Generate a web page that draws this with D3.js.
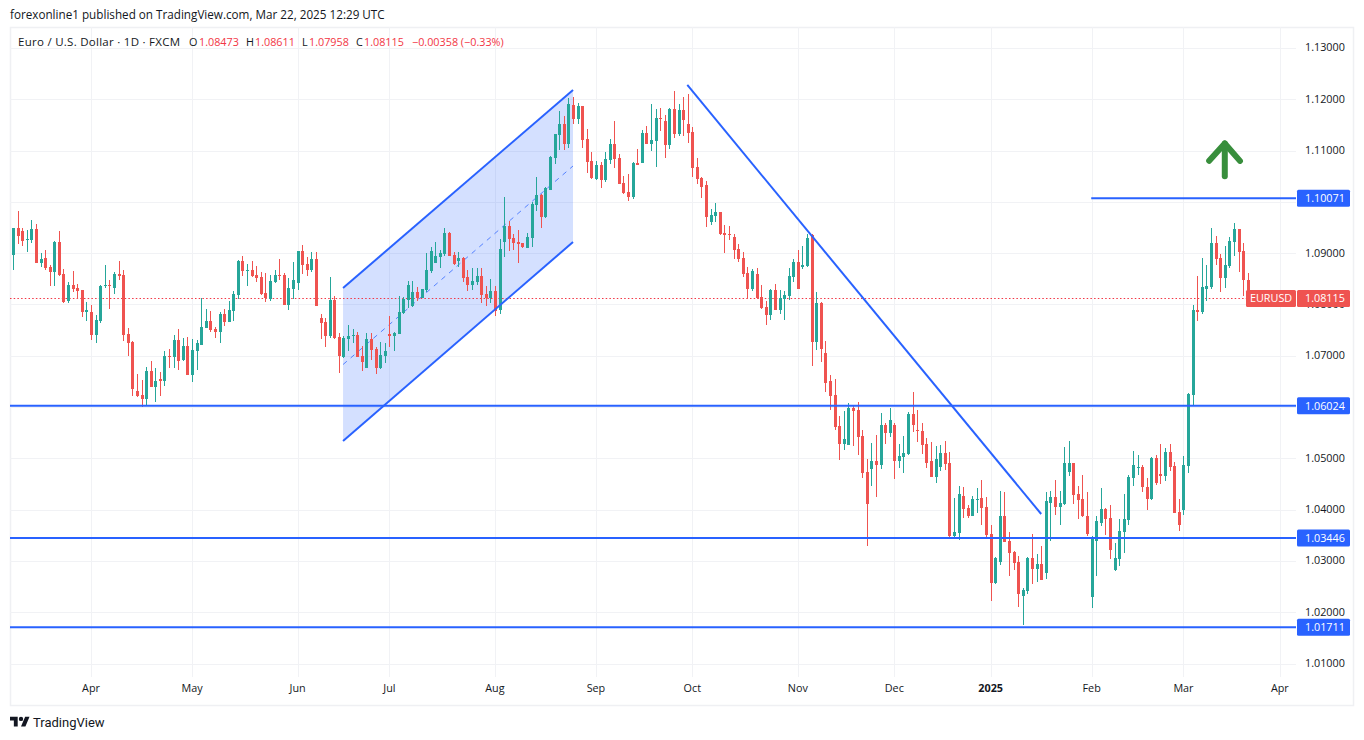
<!DOCTYPE html>
<meta charset="utf-8">
<style>

body {
  margin: 0;
  padding: 0;
  background: #fff;
}

text {
  font-family: "Open Sans", sans-serif;
  font-size: 10.8px;
  fill: #131722;
}

.axis .domain {
  display: none;
}

.axis text {
  font-family: "Open Sans", sans-serif;
  font-size: 10.8px;
  fill: #131722;
}

</style>
<svg width="1364" height="740"></svg>
<script src="https://d3js.org/d3.v7.min.js"></script>
<script>

// daily EURUSD candles
var opens = [1.0897,1.0950,1.0944,1.0927,1.0926,1.0948,1.0881,1.0891,1.0873,1.0863,1.0922,1.0859,1.0806,1.0838,1.0832,1.0828,1.0785,1.0785,1.0740,1.0767,1.0836,1.0838,1.0832,1.0859,1.0857,1.0742,1.0726,1.0632,1.0624,1.0616,1.0671,1.0640,1.0655,1.0651,1.0700,1.0697,1.0730,1.0691,1.0720,1.0663,1.0710,1.0722,1.0755,1.0767,1.0753,1.0746,1.0781,1.0765,1.0787,1.0818,1.0885,1.0865,1.0867,1.0857,1.0853,1.0822,1.0810,1.0844,1.0857,1.0857,1.0799,1.0830,1.0842,1.0905,1.0879,1.0867,1.0889,1.0773,1.0765,1.0738,1.0808,1.0736,
  1.0698,1.0732,1.0739,1.0741,1.0700,1.0677,1.0732,1.0714,1.0677,1.0700,1.0743,1.0738,1.0743,1.0783,1.0808,1.0798,1.0824,1.0812,1.0828,1.0865,1.0881,1.0893,1.0898,1.0940,1.0896,1.0885,1.0891,1.0853,1.0838,1.0843,1.0855,1.0820,1.0812,1.0826,1.0789,1.0922,1.0953,1.0930,1.0922,1.0920,1.0910,1.0930,1.0993,1.1014,1.0971,1.1024,1.1085,1.1130,1.1152,1.1112,1.1189,1.1161,1.1187,1.1122,1.1079,1.1044,1.1071,1.1042,1.1081,1.1112,1.1085,1.1036,1.1020,1.1010,1.1075,1.1075,1.1134,1.1112,1.1118,1.1163,1.1157,1.1110,1.1181,
  1.1132,1.1179,1.1152,1.1136,1.1069,1.1046,1.1032,1.0961,1.0973,1.0981,1.0940,1.0938,1.0932,1.0908,1.0891,1.0861,1.0830,1.0859,1.0814,1.0796,1.0779,1.0828,1.0789,1.0810,1.0816,1.0853,1.0883,1.0873,1.0875,1.0936,1.0726,1.0802,1.0705,
  1.0650,1.0624,1.0563,1.0528,1.0526,1.0598,1.0595,1.0543,1.0473,1.0479,1.0494,1.0487,1.0565,1.0549,1.0565,1.0494,1.0502,1.0508,1.0587,1.0555,1.0553,1.0528,1.0494,1.0463,1.0483,1.0510,1.0491,1.0349,1.0355,1.0426,1.0404,1.0388,1.0418,1.0422,1.0406,1.0353,1.0257,1.0298,1.0388,1.0339,1.0318,1.0298,1.0231,1.0241,1.0306,1.0285,1.0294,1.0277,1.0414,1.0424,1.0406,1.0412,1.0473,1.0491,1.0430,1.0420,1.0388,1.0230,1.0339,
  1.0375,1.0402,1.0383,1.0283,1.0304,1.0357,1.0379,1.0461,1.0481,1.0483,1.0445,1.0420,1.0500,1.0469,1.0465,1.0512,1.0485,1.0396,1.0400,1.0485,1.0624,1.0789,1.0785,1.0830,1.0834,1.0920,1.0891,1.0852,1.0875,1.0922,1.0948,1.0905,1.08473];

var highs = [1.0950,1.0983,1.0950,1.0946,1.0965,1.0956,1.0901,1.0906,1.0877,1.0924,1.0944,1.0869,1.0844,1.0865,1.0840,1.0828,1.0804,1.0799,1.0779,1.0838,1.0877,1.0848,1.0863,1.0885,1.0867,1.0755,1.0728,1.0665,1.0653,1.0679,1.0689,1.0677,1.0669,1.0710,1.0714,1.0740,1.0753,1.0734,1.0736,1.0732,1.0730,1.0812,1.0791,1.0787,1.0757,1.0785,1.0791,1.0806,1.0826,1.0887,1.0895,1.0879,1.0885,1.0875,1.0863,1.0861,1.0857,1.0867,1.0889,1.0861,1.0851,1.0883,1.0905,1.0916,1.0893,1.0903,1.0903,1.0781,1.0773,1.0853,1.0816,1.0744,
  1.0739,1.0761,1.0753,1.0747,1.0720,1.0745,1.0745,1.0718,1.0726,1.0724,1.0777,1.0747,1.0816,1.0814,1.0845,1.0845,1.0834,1.0830,1.0900,1.0912,1.0922,1.0906,1.0949,1.0942,1.0902,1.0902,1.0893,1.0867,1.0871,1.0871,1.0871,1.0836,1.0849,1.0836,1.0928,1.1010,1.0963,1.0938,1.0946,1.0920,1.0940,1.1000,1.1049,1.1016,1.1030,1.1089,1.1132,1.1177,1.1167,1.1203,1.1204,1.1193,1.1187,1.1142,1.1097,1.1079,1.1077,1.1097,1.1122,1.1157,1.1093,1.1051,1.1055,1.1077,1.1104,1.1140,1.1148,1.1191,1.1181,1.1183,1.1169,1.1183,1.1216,
  1.1191,1.1204,1.1210,1.1146,1.1085,1.1048,1.1040,1.0987,1.0998,1.0981,1.0955,1.0953,1.0938,1.0918,1.0902,1.0873,1.0869,1.0871,1.0838,1.0806,1.0830,1.0840,1.0828,1.0826,1.0871,1.0889,1.0906,1.0914,1.0938,1.0938,1.0824,1.0804,1.0729,
  1.0663,1.0655,1.0583,1.0593,1.0608,1.0602,1.0610,1.0555,1.0498,1.0530,1.0545,1.0589,1.0569,1.0598,1.0569,1.0528,1.0543,1.0591,1.0630,1.0595,1.0569,1.0540,1.0532,1.0524,1.0526,1.0534,1.0512,1.0422,1.0447,1.0445,1.0410,1.0426,1.0443,1.0457,1.0424,1.0371,1.0308,1.0436,1.0434,1.0357,1.0320,1.0310,1.0247,1.0308,1.0353,1.0314,1.0330,1.0434,1.0436,1.0457,1.0436,1.0522,1.0534,1.0492,1.0447,1.0467,1.0434,1.0349,1.0387,
  1.0442,1.0404,1.0410,1.0336,1.0381,1.0430,1.0467,1.0514,1.0506,1.0487,1.0461,1.0502,1.0506,1.0528,1.0520,1.0528,1.0493,1.0420,1.0504,1.0628,1.0799,1.0856,1.0891,1.0877,1.0950,1.0934,1.0899,1.0914,1.0932,1.0958,1.0948,1.0920,1.08611];

var lows = [1.0867,1.0918,1.0914,1.0903,1.0920,1.0881,1.0873,1.0867,1.0836,1.0836,1.0855,1.0802,1.0802,1.0824,1.0810,1.0775,1.0767,1.0730,1.0724,1.0763,1.0832,1.0791,1.0820,1.0848,1.0728,1.0699,1.0622,1.0620,1.0600,1.0604,1.0640,1.0610,1.0622,1.0642,1.0677,1.0677,1.0673,1.0689,1.0663,1.0649,1.0673,1.0722,1.0755,1.0747,1.0734,1.0724,1.0759,1.0765,1.0767,1.0810,1.0855,1.0836,1.0853,1.0844,1.0818,1.0804,1.0806,1.0842,1.0848,1.0799,1.0789,1.0810,1.0828,1.0859,1.0855,1.0863,1.0797,1.0732,1.0718,1.0734,1.0732,1.0667,
  1.0696,1.0710,1.0724,1.0698,1.0671,1.0677,1.0692,1.0665,1.0675,1.0685,1.0718,1.0710,1.0743,1.0781,1.0794,1.0796,1.0806,1.0812,1.0824,1.0861,1.0881,1.0871,1.0894,1.0894,1.0877,1.0873,1.0843,1.0826,1.0828,1.0838,1.0802,1.0798,1.0802,1.0777,1.0781,1.0893,1.0904,1.0906,1.0881,1.0910,1.0910,1.0912,1.0983,1.0949,1.0969,1.1024,1.1073,1.1101,1.1101,1.1106,1.1152,1.1152,1.1106,1.1057,1.1044,1.1042,1.1028,1.1038,1.1073,1.1067,1.1034,1.1016,1.1002,1.1006,1.1071,1.1075,1.1112,1.1099,1.1069,1.1138,1.1085,1.1104,1.1124,
  1.1128,1.1128,1.1114,1.1048,1.1034,1.1008,1.0951,1.0955,1.0961,1.0936,1.0900,1.0926,1.0889,1.0883,1.0853,1.0810,1.0826,1.0810,1.0792,1.0761,1.0769,1.0790,1.0781,1.0769,1.0808,1.0843,1.0830,1.0869,1.0873,1.0681,1.0712,1.0687,1.0629,
  1.0595,1.0555,1.0496,1.0516,1.0526,1.0524,1.0506,1.0461,1.0330,1.0447,1.0424,1.0479,1.0528,1.0542,1.0459,1.0481,1.0471,1.0506,1.0551,1.0532,1.0508,1.0481,1.0463,1.0453,1.0475,1.0477,1.0345,1.0345,1.0341,1.0383,1.0383,1.0388,1.0394,1.0371,1.0343,1.0222,1.0255,1.0292,1.0338,1.0271,1.0283,1.0210,1.0175,1.0235,1.0255,1.0259,1.0263,1.0265,1.0339,1.0390,1.0371,1.0410,1.0465,1.0412,1.0381,1.0385,1.0349,1.0208,1.0271,
  1.0369,1.0351,1.0304,1.0281,1.0290,1.0316,1.0371,1.0447,1.0467,1.0434,1.0400,1.0418,1.0449,1.0451,1.0455,1.0475,1.0394,1.0359,1.0389,1.0471,1.0602,1.0767,1.0781,1.0806,1.0830,1.0877,1.0824,1.0832,1.0871,1.0895,1.0863,1.0816,1.07958];

var closes = [1.0950,1.0934,1.0924,1.0928,1.0948,1.0881,1.0889,1.0871,1.0863,1.0922,1.0857,1.0804,1.0838,1.0830,1.0826,1.0785,1.0789,1.0740,1.0769,1.0836,1.0838,1.0836,1.0859,1.0855,1.0740,1.0724,1.0636,1.0622,1.0616,1.0671,1.0640,1.0651,1.0651,1.0700,1.0697,1.0730,1.0689,1.0720,1.0663,1.0712,1.0724,1.0757,1.0767,1.0751,1.0746,1.0781,1.0765,1.0789,1.0820,1.0885,1.0865,1.0867,1.0855,1.0851,1.0820,1.0812,1.0846,1.0857,1.0855,1.0799,1.0832,1.0848,1.0905,1.0877,1.0867,1.0889,1.0797,1.0763,1.0738,1.0808,1.0734,1.0700,
  1.0734,1.0739,1.0741,1.0698,1.0688,1.0732,1.0712,1.0677,1.0702,1.0710,1.0738,1.0745,1.0785,1.0810,1.0838,1.0824,1.0812,1.0830,1.0867,1.0904,1.0894,1.0900,1.0940,1.0894,1.0879,1.0891,1.0851,1.0838,1.0845,1.0855,1.0818,1.0812,1.0826,1.0787,1.0908,1.0953,1.0928,1.0920,1.0918,1.0912,1.0932,1.0995,1.1014,1.0971,1.1028,1.1087,1.1132,1.1152,1.1112,1.1191,1.1161,1.1187,1.1120,1.1077,1.1046,1.1071,1.1042,1.1083,1.1112,1.1083,1.1034,1.1018,1.1010,1.1075,1.1071,1.1134,1.1112,1.1120,1.1163,1.1161,1.1110,1.1181,1.1132,
  1.1179,1.1159,1.1134,1.1067,1.1044,1.1030,1.0971,1.0975,1.0981,1.0938,1.0936,1.0936,1.0906,1.0889,1.0859,1.0830,1.0865,1.0812,1.0794,1.0779,1.0828,1.0790,1.0812,1.0818,1.0855,1.0883,1.0830,1.0877,1.0930,1.0726,1.0802,1.0714,1.0647,
  1.0622,1.0561,1.0528,1.0538,1.0598,1.0593,1.0542,1.0471,1.0412,1.0494,1.0487,1.0565,1.0549,1.0575,1.0494,1.0504,1.0510,1.0587,1.0565,1.0553,1.0526,1.0492,1.0463,1.0498,1.0510,1.0489,1.0349,1.0357,1.0430,1.0402,1.0388,1.0420,1.0420,1.0404,1.0351,1.0257,1.0306,1.0388,1.0338,1.0316,1.0296,1.0235,1.0243,1.0306,1.0285,1.0294,1.0263,1.0416,1.0424,1.0406,1.0414,1.0492,1.0491,1.0428,1.0418,1.0387,1.0353,1.0343,1.0377,
  1.0402,1.0381,1.0322,1.0306,1.0359,1.0381,1.0463,1.0487,1.0483,1.0444,1.0420,1.0500,1.0453,1.0465,1.0512,1.0483,1.0394,1.0371,1.0487,1.0626,1.0789,1.0785,1.0834,1.0836,1.0920,1.0889,1.0852,1.0877,1.0924,1.0948,1.0903,1.0848,1.08115];

var priceTicks = [1.01,1.02,1.03,1.04,1.05,1.06,1.07,1.08,1.09,1.10,1.11,1.12,1.13];
var hiddenTicks = [1.06,1.10]; // sit under the blue level labels
var monthIndex = [17,39,62,82,105,127,148,171,192,213,235,255,276];
var monthLabels = ["Apr","May","Jun","Jul","Aug","Sep","Oct","Nov","Dec","2025","Feb","Mar","Apr"];

// drawings, in [candle index, price]
var levels = [1.06024, 1.03446, 1.01711];
var shortLevel = {start: 234.8, price: 1.10071};
var channelTop = [[71.8, 1.08322], [121.9, 1.12181]];
var channelMid = [[71.8, 1.0683], [121.9, 1.1070]];
var channelBottom = [[71.8, 1.05339], [121.9, 1.09218]];
var downTrend = [[146.8, 1.12279], [223.9, 1.03916]];
var arrowShaft = [[263.9, 1.1050], [263.9, 1.1114]];
var arrowHead = [[260.5, 1.1080], [263.9, 1.1114], [267.2, 1.1080]];

var up = "#26a69a", down = "#ef5350", blue = "#2962ff", gridColor = "#f1f2f5";

var svg = d3.select("svg"),
    plot = {left: 10, right: 1296, top: 27, bottom: 677};

var x = d3.scaleLinear().domain([0, 269]).range([13.5, 1248.2]);
var y = d3.scaleLinear().domain([1.01, 1.13]).range([663.6, 48]);
var line = d3.line().x(function(d) { return x(d[0]); }).y(function(d) { return y(d[1]); });

// frame
svg.append("rect")
    .attr("x", 10.5).attr("y", 27.5)
    .attr("width", 1343).attr("height", 678)
    .attr("fill", "none").attr("stroke", "#eff0f3").attr("stroke-width", 1.5);

// grid
svg.append("g").selectAll("line")
    .data(priceTicks)
  .enter().append("line")
    .attr("x1", plot.left).attr("x2", plot.right)
    .attr("y1", function(d) { return Math.round(y(d)) + 0.5; })
    .attr("y2", function(d) { return Math.round(y(d)) + 0.5; })
    .attr("stroke", gridColor);

svg.append("g").selectAll("line")
    .data(monthIndex)
  .enter().append("line")
    .attr("x1", function(d) { return Math.floor(x(d)) + 0.5; })
    .attr("x2", function(d) { return Math.floor(x(d)) + 0.5; })
    .attr("y1", plot.top).attr("y2", plot.bottom)
    .attr("stroke", gridColor);

// axes
svg.append("g")
    .attr("class", "axis")
    .attr("transform", "translate(1296,-0.6)")
    .call(d3.axisRight(y)
      .tickValues(priceTicks.filter(function(d) { return hiddenTicks.indexOf(d) < 0; }))
      .tickSize(0).tickPadding(9).tickFormat(d3.format(".5f")));

svg.append("g")
    .attr("class", "axis")
    .attr("transform", "translate(-1,677)")
    .call(d3.axisBottom(x).tickValues(monthIndex).tickSize(0).tickPadding(7)
      .tickFormat(function(d, i) { return monthLabels[i]; }))
  .selectAll("text")
    .style("font-weight", function(d, i) { return monthLabels[i] == "2025" ? "bold" : null; });

// channel fill
svg.append("path")
    .attr("d", line(channelTop.concat(channelBottom.slice().reverse())) + "Z")
    .attr("fill", blue).attr("fill-opacity", 0.2);

svg.append("path")
    .attr("d", line(channelMid))
    .attr("fill", "none").attr("stroke", blue).attr("stroke-opacity", 0.75)
    .attr("stroke-width", 1).attr("stroke-dasharray", "5 5");

// last price line
svg.append("line")
    .attr("x1", plot.left).attr("x2", 1246)
    .attr("y1", Math.floor(y(closes[269])) + 0.5).attr("y2", Math.floor(y(closes[269])) + 0.5)
    .attr("stroke", "#f23645").attr("stroke-dasharray", "1.5 2.2");

// candles
var candles = svg.append("g").selectAll("g")
    .data(d3.range(opens.length))
  .enter().append("g")
    .attr("fill", function(i) { return closes[i] >= opens[i] ? up : down; });

candles.append("rect")
    .attr("x", function(i) { return Math.floor(x(i)); })
    .attr("width", 1)
    .attr("y", function(i) { return Math.round(y(highs[i])); })
    .attr("height", function(i) { return Math.max(1, Math.round(y(lows[i])) - Math.round(y(highs[i]))); });

candles.append("rect")
    .attr("x", function(i) { return Math.floor(x(i)) - 1; })
    .attr("width", 3)
    .attr("y", function(i) { return Math.round(y(Math.max(opens[i], closes[i]))); })
    .attr("height", function(i) { return Math.max(1, Math.round(y(Math.min(opens[i], closes[i]))) - Math.round(y(Math.max(opens[i], closes[i])))); });

// blue drawings, over the candles
[channelTop, channelBottom, downTrend].forEach(function(pts) {
  svg.append("path")
      .attr("d", line(pts))
      .attr("fill", "none").attr("stroke", blue).attr("stroke-width", 2);
});

svg.append("g").selectAll("line")
    .data(levels)
  .enter().append("line")
    .attr("x1", plot.left).attr("x2", plot.right)
    .attr("y1", function(d) { return y(d); })
    .attr("y2", function(d) { return y(d); })
    .attr("stroke", blue).attr("stroke-width", 2);

svg.append("line")
    .attr("x1", x(shortLevel.start)).attr("x2", plot.right)
    .attr("y1", y(shortLevel.price)).attr("y2", y(shortLevel.price))
    .attr("stroke", blue).attr("stroke-width", 2);

// arrow
[arrowShaft, arrowHead].forEach(function(pts) {
  svg.append("path")
      .attr("d", line(pts))
      .attr("fill", "none").attr("stroke", "#388e3c").attr("stroke-width", 6)
      .attr("stroke-linecap", "round").attr("stroke-linejoin", "round");
});

// price labels
function priceLabel(price, color) {
  svg.append("rect")
      .attr("x", 1297).attr("y", y(price) - 8.5)
      .attr("width", 53).attr("height", 17).attr("rx", 1.5)
      .attr("fill", color);
  svg.append("text")
      .attr("x", 1305).attr("y", y(price) + 3.8)
      .style("fill", "#fff")
      .text(d3.format(".5f")(price));
}

[shortLevel.price].concat(levels).forEach(function(d) { priceLabel(d, blue); });
priceLabel(closes[269], down);

svg.append("rect")
    .attr("x", 1246).attr("y", y(closes[269]) - 8.5)
    .attr("width", 50).attr("height", 17).attr("rx", 1.5)
    .attr("fill", down);
svg.append("text")
    .attr("x", 1250).attr("y", y(closes[269]) + 3.8)
    .style("fill", "#fff")
    .text("EURUSD");

// header
svg.append("text").attr("x", 10).attr("y", 19)
    .style("font-size", "11.7px")
    .text("forexonline1 published on TradingView.com, Mar 22, 2025 12:29 UTC");

svg.append("text").attr("x", 18).attr("y", 46)
    .style("font-size", "11.5px")
    .style("letter-spacing", "0.27px")
    .text("Euro / U.S. Dollar \u00b7 1D \u00b7 FXCM");

var legendParts = [
  ["O", 189, 0], ["1.08473", 199, 1],
  ["H", 246, 0], ["1.08611", 255, 1],
  ["L", 302, 0], ["1.07958", 309, 1],
  ["C", 356, 0], ["1.08115", 364, 1],
  ["\u22120.00358 (\u22120.33%)", 412, 1]
];

svg.append("g").selectAll("text")
    .data(legendParts)
  .enter().append("text")
    .attr("x", function(d) { return d[1]; })
    .attr("y", 46)
    .style("fill", function(d) { return d[2] ? "#f23645" : "#131722"; })
    .text(function(d) { return d[0]; });

// footer logo
svg.append("path")
    .attr("transform", "translate(10,714.5) scale(0.55)")
    .attr("fill", "#131722")
    .attr("d", "M14 22H7V11H0V4h14v18zM28 22h-8l7.5-18h8L28 22z");
svg.append("circle")
    .attr("transform", "translate(10,714.5) scale(0.55)")
    .attr("cx", 20).attr("cy", 8).attr("r", 4)
    .attr("fill", "#131722");
svg.append("text").attr("x", 33).attr("y", 727)
    .style("font-size", "13px")
    .style("font-family", "Roboto, sans-serif")
    .text("TradingView");

</script>
